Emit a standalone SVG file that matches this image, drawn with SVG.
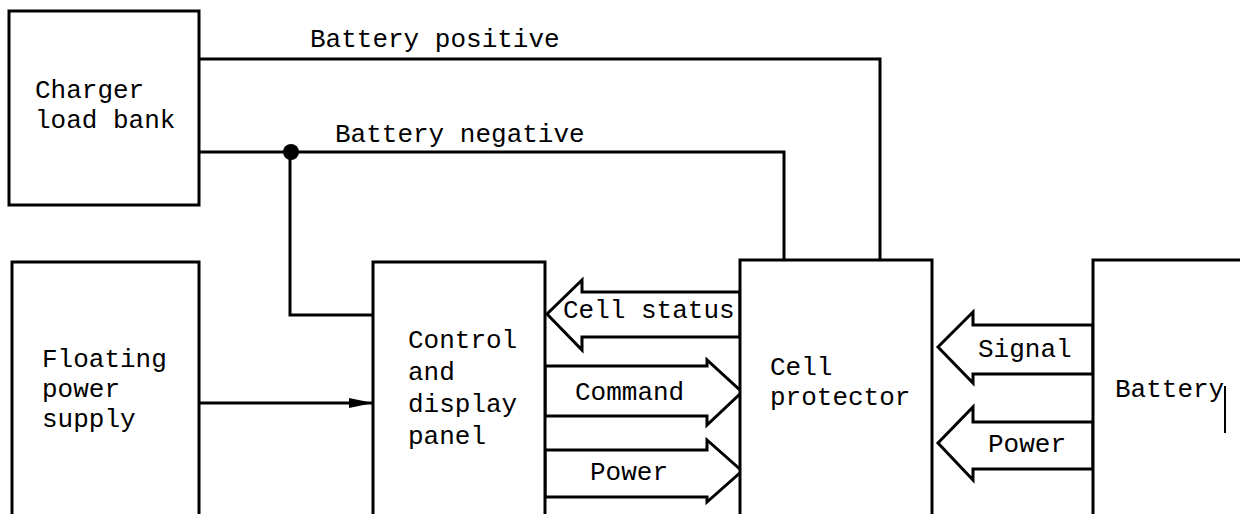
<svg xmlns="http://www.w3.org/2000/svg" width="1240" height="514" viewBox="0 0 1240 514">
<defs>
<style>
.box{fill:#fff;stroke:#000;stroke-width:3}
.wire{fill:none;stroke:#000;stroke-width:3}
.barrow{fill:#fff;stroke:#000;stroke-width:3;stroke-linejoin:miter}
text{font-family:"Liberation Mono","Courier New",monospace;font-size:26px;fill:#000}
</style>
<marker id="ah" viewBox="0 0 24 10" refX="24" refY="5" markerWidth="24" markerHeight="10" markerUnits="userSpaceOnUse" orient="auto">
<path d="M0,0 L24,5 L0,10 Z" fill="#000"/>
</marker>
</defs>
<rect width="1240" height="514" fill="#fff"/>
<g id="connectors">
<path class="wire" d="M199,59 H880 V260"/>
<path class="wire" d="M199,152 H784 V260"/>
<path class="wire" d="M290,152 V315 H373"/>
<circle cx="291" cy="152" r="8" fill="#000"/>
<line class="wire" x1="199" y1="403" x2="373" y2="403" marker-end="url(#ah)"/>
<polygon class="barrow" points="740,292 582,292 582,280 547,314 582,350 582,337 740,337"/>
<polygon class="barrow" points="545,366 707,366 707,360 742,392 707,425 707,416 545,416"/>
<polygon class="barrow" points="545,450 707,450 707,440 742,471 707,502 707,497 545,497"/>
<polygon class="barrow" points="1093,325 973,325 973,312 938,347 973,383 973,374 1093,374"/>
<polygon class="barrow" points="1093,422 973,422 973,407 938,443 973,480 973,469 1093,469"/>
<text x="563" y="318">Cell status</text>
<text x="575" y="400">Command</text>
<text x="590" y="480">Power</text>
<text x="978" y="357">Signal</text>
<text x="988" y="452">Power</text>
<text x="310" y="47">Battery positive</text>
<text x="335" y="142">Battery negative</text>
</g>
<g id="charger">
<rect class="box" x="9" y="11" width="190" height="194"/>
<text x="35" y="98">Charger</text>
<text x="35" y="128">load bank</text>
</g>
<g id="floating">
<rect class="box" x="12" y="262" width="187" height="270"/>
<text x="42" y="367">Floating</text>
<text x="42" y="397">power</text>
<text x="42" y="427">supply</text>
</g>
<g id="control">
<rect class="box" x="373" y="262" width="172" height="270"/>
<text x="408" y="348">Control</text>
<text x="408" y="380">and</text>
<text x="408" y="412">display</text>
<text x="408" y="444">panel</text>
</g>
<g id="cellprotector">
<rect class="box" x="740" y="260" width="192" height="270"/>
<text x="770" y="375">Cell</text>
<text x="770" y="405">protector</text>
</g>
<g id="battery">
<rect class="box" x="1093" y="260" width="160" height="270"/>
<text x="1115" y="397">Battery</text>
<line x1="1225" y1="386" x2="1225" y2="433" stroke="#000" stroke-width="2"/>
</g>
</svg>
